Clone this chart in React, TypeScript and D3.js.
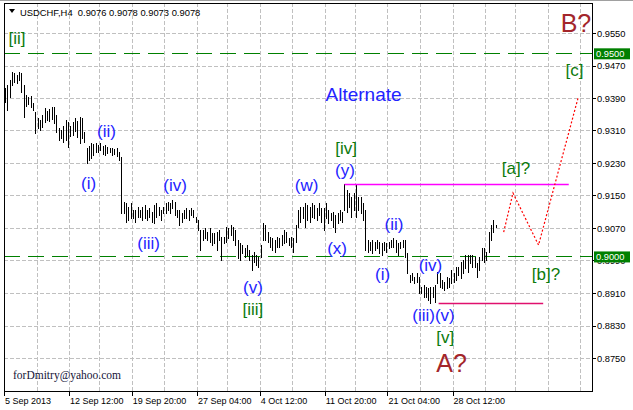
import React from 'react';
import * as d3 from 'd3';

// H4 bar highs / lows in pips (price * 10000)
const highs = [
  9415, 9422, 9434, 9454, 9452, 9447, 9454, 9452, 9422, 9397,
  9392, 9395, 9378, 9356, 9341, 9336, 9348, 9365, 9358, 9363,
  9368, 9368, 9348, 9316, 9311, 9321, 9336, 9331, 9321, 9331,
  9341, 9333, 9343, 9341, 9306, 9267, 9272, 9279, 9277, 9279,
  9274, 9279, 9272, 9274, 9269, 9267, 9267, 9264, 9267, 9257,
  9245, 9134, 9132, 9122, 9132, 9114, 9114, 9122, 9114, 9122,
  9127, 9114, 9119, 9109, 9127, 9132, 9122, 9114, 9122, 9132,
  9134, 9132, 9139, 9134, 9114, 9114, 9107, 9114, 9119, 9114,
  9119, 9114, 9097, 9090, 9065, 9065, 9070, 9060, 9070, 9058,
  9058, 9060, 9065, 9048, 9048, 9072, 9070, 9077, 9072, 9065,
  9040, 9033, 9028, 9021, 9028, 9016, 9004, 9011, 9004, 8999,
  9028, 9082, 9077, 9060, 9048, 9046, 9040, 9048, 9046, 9053,
  9065, 9060, 9046, 9048, 9046, 9077, 9114, 9122, 9122, 9132,
  9127, 9122, 9132, 9127, 9119, 9132, 9119, 9119, 9132, 9114,
  9107, 9109, 9102, 9107, 9114, 9109, 9178, 9164, 9156, 9146,
  9156, 9178, 9146, 9146, 9132, 9114, 9040, 9036, 9040, 9036,
  9040, 9036, 9033, 9036, 9033, 9036, 9040, 9046, 9040, 9033,
  9036, 9040, 9040, 9008, 8954, 8959, 8949, 8959, 8949, 8925,
  8930, 8925, 8923, 8925, 8925, 8930, 8962, 8959, 8942, 8937,
  8949, 8947, 8967, 8959, 8974, 8974, 8986, 8991, 9004, 9004,
  9004, 9004, 8999, 8984, 8999, 9021, 9021, 9011, 9060, 9077,
  9090, 9078,
];
const lows = [
  9380, 9360, 9392, 9422, 9429, 9427, 9434, 9405, 9343, 9370,
  9375, 9368, 9360, 9304, 9316, 9311, 9319, 9331, 9336, 9333,
  9338, 9328, 9306, 9287, 9292, 9282, 9287, 9269, 9296, 9299,
  9309, 9294, 9279, 9292, 9282, 9230, 9237, 9242, 9250, 9257,
  9257, 9262, 9252, 9250, 9255, 9257, 9250, 9252, 9247, 9237,
  9107, 9107, 9085, 9090, 9095, 9095, 9085, 9097, 9097, 9090,
  9095, 9090, 9097, 9085, 9082, 9097, 9102, 9090, 9107, 9107,
  9114, 9107, 9119, 9102, 9097, 9077, 9085, 9095, 9095, 9090,
  9102, 9097, 9085, 9065, 9016, 9040, 9046, 9040, 9036, 9028,
  9033, 9016, 9040, 8991, 9033, 9036, 9046, 9053, 9040, 9028,
  8996, 8991, 9008, 8999, 9004, 8991, 8967, 8986, 8979, 8974,
  8999, 9040, 9040, 9036, 9023, 9016, 9011, 9023, 9023, 9028,
  9033, 9036, 9028, 9023, 9011, 9036, 9072, 9085, 9095, 9072,
  9090, 9085, 9097, 9095, 9090, 9102, 9085, 9065, 9095, 9082,
  9090, 9072, 9060, 9082, 9090, 9085, 9114, 9109, 9122, 9097,
  9114, 9097, 9114, 9107, 9090, 9016, 9011, 9016, 9008, 9016,
  9021, 9008, 9004, 9016, 9011, 9021, 9023, 9023, 9011, 9004,
  9021, 9023, 8999, 8959, 8937, 8942, 8935, 8937, 8910, 8910,
  8900, 8900, 8893, 8885, 8900, 8888, 8935, 8925, 8923, 8917,
  8923, 8925, 8935, 8937, 8942, 8954, 8947, 8959, 8972, 8962,
  8984, 8974, 8974, 8949, 8967, 8991, 8986, 8991, 9011, 9040,
  9060, 9073,
];

const priceTicks = [0.9550, 0.9470, 0.9390, 0.9310, 0.9230, 0.9150, 0.9070, 0.8990, 0.8910, 0.8830, 0.8750];
const timeLabels = ['5 Sep 2013', '12 Sep 12:00', '19 Sep 20:00', '27 Sep 04:00', '4 Oct 12:00', '11 Oct 20:00', '21 Oct 04:00', '28 Oct 12:00'];
const timeLabelBars = [0, 28, 55, 83, 110, 138, 165, 193];
const gridBars = [14, 28, 41, 55, 69, 83, 96, 110, 124, 138, 151, 165, 179, 193, 207, 220, 234, 248];
const levelPrices = [0.9500, 0.9000];
const levelLabels = ['0.9500', '0.9000'];

// projected path (bar index, price)
const projBars = [215, 219, 230, 247];
const projPrices = [0.9060, 0.9156, 0.9028, 0.9390];

// horizontal segments (magenta top, red bottom)
const resistance = { from: 146, to: 243, price: 0.9178 };
const support = { from: 187, to: 232, price: 0.8885 };

const header = 'USDCHF,H4  0.9076 0.9078 0.9073 0.9078';

type Ann = { text: string; bar: number; price: number; kind: 'blue' | 'green' | 'red' | 'title' };
const annotations: Ann[] = [
  { text: '(i)', bar: 36.4, price: 0.9165, kind: 'blue' },
  { text: '(ii)', bar: 44.1, price: 0.9295, kind: 'blue' },
  { text: '(iii)', bar: 62.2, price: 0.9019, kind: 'blue' },
  { text: '(iv)', bar: 73.6, price: 0.9160, kind: 'blue' },
  { text: '(v)', bar: 107.1, price: 0.8909, kind: 'blue' },
  { text: '(w)', bar: 130.2, price: 0.9160, kind: 'blue' },
  { text: '(x)', bar: 143.3, price: 0.9007, kind: 'blue' },
  { text: '(y)', bar: 146.7, price: 0.9197, kind: 'blue' },
  { text: '(i)', bar: 162.9, price: 0.8943, kind: 'blue' },
  { text: '(ii)', bar: 167.8, price: 0.9066, kind: 'blue' },
  { text: '(iv)', bar: 183.5, price: 0.8963, kind: 'blue' },
  { text: '(iii)(v)', bar: 184.8, price: 0.8840, kind: 'blue' },
  { text: 'Alternate', bar: 154.7, price: 0.9383, kind: 'title' },
  { text: '[ii]', bar: 5.6, price: 0.9522, kind: 'green' },
  { text: '[iii]', bar: 107.1, price: 0.8857, kind: 'green' },
  { text: '[iv]', bar: 147.2, price: 0.9251, kind: 'green' },
  { text: '[v]', bar: 189.9, price: 0.8786, kind: 'green' },
  { text: '[a]?', bar: 220.3, price: 0.9204, kind: 'green' },
  { text: '[b]?', bar: 233.2, price: 0.8943, kind: 'green' },
  { text: '[c]', bar: 245.5, price: 0.9445, kind: 'green' },
  { text: 'A?', bar: 192.6, price: 0.8716, kind: 'red' },
  { text: 'B?', bar: 246.1, price: 0.9552, kind: 'red' },
];

const W = 633;
const H = 410;
const left = 4;
const right = 592;
const top = 3;
const bottom = 391;

const sans = '"Liberation Sans", Arial, sans-serif';

export default function App() {
  const x = d3.scaleLinear().domain([0, 253]).range([left, right]);
  const y = d3.scaleLinear().domain([0.955, 0.875]).range([33, 358]);
  const px = (v: number) => Math.round(v) + 0.5;

  const projLine = d3
    .line<number>()
    .x((_, i) => x(projBars[i]))
    .y((d) => y(d))(projPrices);

  const annStyle = (k: Ann['kind']) => {
    if (k === 'blue') return { fill: '#2323ff', fontSize: 17 };
    if (k === 'title') return { fill: '#2323ff', fontSize: 19 };
    if (k === 'green') return { fill: '#0c7a0c', fontSize: 17 };
    return { fill: '#a3262b', fontSize: 25 };
  };

  return (
    <svg
      width={W}
      height={H}
      viewBox={`0 0 ${W} ${H}`}
      style={{ position: 'absolute', left: 0, top: 0, background: '#fff' }}
      fontFamily={sans}
    >
      <rect x={0} y={0} width={W} height={H} fill="#fff" />
      <line x1={0} x2={W} y1={0.5} y2={0.5} stroke="#a0a0a0" />
      {/* grid */}
      <g stroke="#c0c0c0" strokeWidth={1} strokeDasharray="4,2" shapeRendering="crispEdges">
        {priceTicks.map((p) => (
          <line key={'h' + p} x1={left} x2={right} y1={px(y(p))} y2={px(y(p))} />
        ))}
        {gridBars.map((b) => (
          <line key={'v' + b} x1={px(x(b))} x2={px(x(b))} y1={top} y2={bottom} />
        ))}
      </g>
      {/* level lines */}
      <g stroke="#008000" strokeWidth={1.2} strokeDasharray="16,8" shapeRendering="crispEdges">
        {levelPrices.map((p) => (
          <line key={'l' + p} x1={left} x2={right} y1={px(y(p))} y2={px(y(p))} />
        ))}
      </g>
      {/* bars */}
      <g stroke="#000" strokeWidth={1} shapeRendering="crispEdges">
        {highs.map((h, i) => (
          <line
            key={'b' + i}
            x1={px(x(i + 0.5))}
            x2={px(x(i + 0.5))}
            y1={Math.round(y(h / 10000))}
            y2={Math.round(y(lows[i] / 10000)) + 1}
          />
        ))}
      </g>
      {/* horizontal segments */}
      <line
        x1={x(resistance.from + 0.5)}
        x2={x(resistance.to)}
        y1={px(y(resistance.price))}
        y2={px(y(resistance.price))}
        stroke="#ff00ff"
        strokeWidth={1.4}
      />
      <line
        x1={x(support.from)}
        x2={x(support.to)}
        y1={px(y(support.price))}
        y2={px(y(support.price))}
        stroke="#e0106e"
        strokeWidth={1.4}
      />
      {/* projected path */}
      <path d={projLine || ''} fill="none" stroke="#ff0000" strokeWidth={1.2} strokeDasharray="2,2" />
      {/* annotations */}
      {annotations.map((a, i) => {
        const s = annStyle(a.kind);
        return (
          <text
            key={'a' + i}
            x={x(a.bar)}
            y={y(a.price)}
            textAnchor="middle"
            fill={s.fill}
            fontSize={s.fontSize}
          >
            {a.text}
          </text>
        );
      })}
      {/* frame */}
      <rect
        x={left + 0.5}
        y={top + 0.5}
        width={right - left}
        height={bottom - top}
        fill="none"
        stroke="#000"
        shapeRendering="crispEdges"
      />
      {/* header */}
      <path d="M9,9 L15,9 L12,13 Z" fill="#000" />
      <text x={20} y={16} fontSize={9.4} fill="#000" xmlSpace="preserve">
        {header}
      </text>
      {/* price axis */}
      <g fontSize={9.3} fill="#000">
        {priceTicks.map((p) => (
          <g key={'t' + p}>
            <line x1={right} x2={right + 4} y1={px(y(p))} y2={px(y(p))} stroke="#000" shapeRendering="crispEdges" />
            <text x={right + 5} y={y(p) + 3.5}>
              {p.toFixed(4)}
            </text>
          </g>
        ))}
      </g>
      {levelPrices.map((p, i) => (
        <g key={'lb' + p}>
          <rect x={right + 2} y={y(p) - 5} width={36} height={11} fill="#008000" />
          <text x={right + 4} y={y(p) + 3.5} fontSize={9.3} fill="#fff">
            {levelLabels[i]}
          </text>
        </g>
      ))}
      {/* time axis */}
      <g fontSize={9} fill="#000">
        {timeLabels.map((t, i) => (
          <g key={'x' + i}>
            <line
              x1={px(x(timeLabelBars[i]))}
              x2={px(x(timeLabelBars[i]))}
              y1={bottom}
              y2={bottom + 5}
              stroke="#000"
              shapeRendering="crispEdges"
            />
            <text x={x(timeLabelBars[i]) + 1} y={404}>
              {t}
            </text>
          </g>
        ))}
      </g>
      <text x={13} y={379} fontSize={11.5} fill="#141438" fontFamily='"Liberation Serif", "Times New Roman", serif'>
        forDmitry@yahoo.com
      </text>
    </svg>
  );
}
